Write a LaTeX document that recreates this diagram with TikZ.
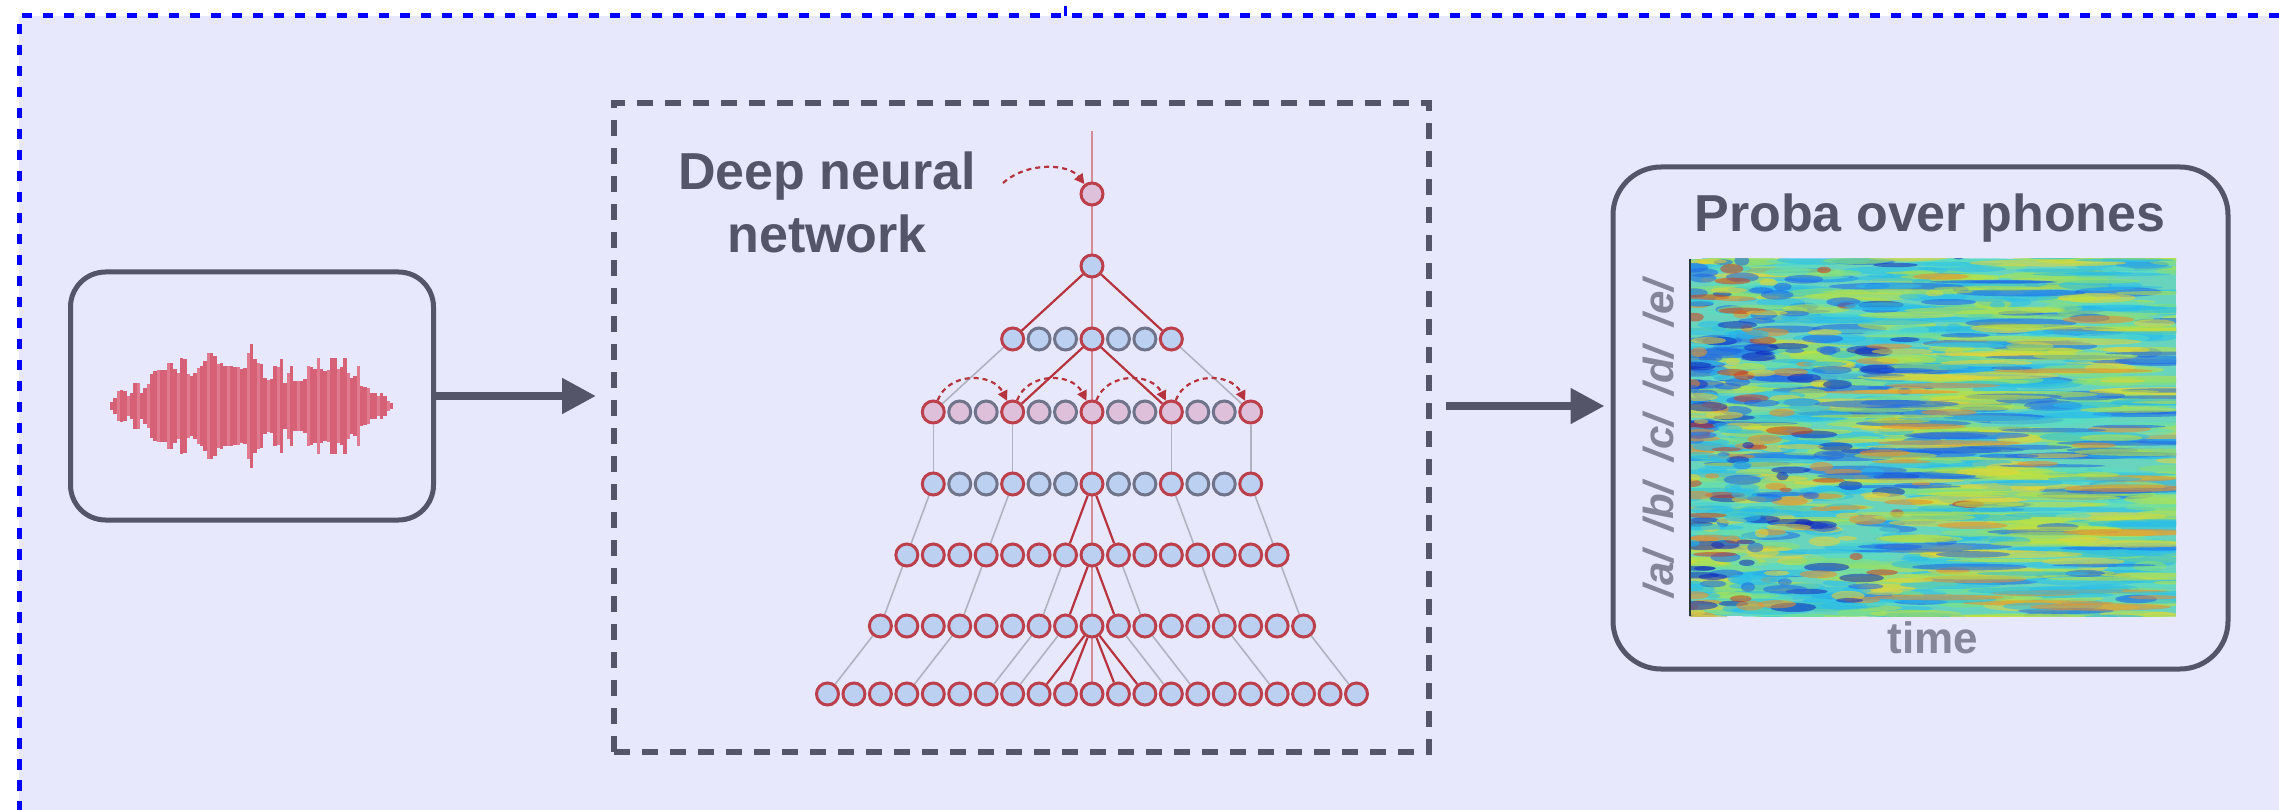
\documentclass[tikz,border=0pt]{standalone}
\usepackage{fontspec}
\setmainfont{Liberation Sans}
\usetikzlibrary{arrows.meta}
\pgfdeclarelayer{back}
\pgfdeclarelayer{edges}
\pgfsetlayers{back,edges,main}

\definecolor{ink}{RGB}{84,85,105}
\definecolor{inklight}{RGB}{132,133,152}
\definecolor{panel}{RGB}{232,232,252}
\definecolor{frameblue}{RGB}{0,0,255}
\definecolor{wavedark}{RGB}{214,96,118}
\definecolor{wavelight}{RGB}{224,122,142}
\definecolor{unitblue}{RGB}{188,208,242}
\definecolor{unitpink}{RGB}{222,192,218}
\definecolor{nodered}{RGB}{188,64,76}
\definecolor{nodegray}{RGB}{112,116,138}
\definecolor{edgered}{RGB}{182,52,62}
\definecolor{edgegray}{RGB}{176,178,194}
\definecolor{axisred}{RGB}{214,140,152}
\definecolor{specbase}{RGB}{104,212,190}
\definecolor{sp1}{RGB}{18,40,190}
\definecolor{sp2}{RGB}{30,100,232}
\definecolor{sp3}{RGB}{40,190,236}
\definecolor{sp4}{RGB}{90,222,196}
\definecolor{sp5}{RGB}{140,226,112}
\definecolor{sp6}{RGB}{192,226,62}
\definecolor{sp7}{RGB}{236,212,50}
\definecolor{sp8}{RGB}{236,140,40}
\definecolor{sp9}{RGB}{208,60,30}

\begin{document}
\begin{tikzpicture}[x=1pt,y=-1pt,
  box/.style={draw=ink, line width=5pt, inner sep=0pt},
  dnnbox/.style={draw=ink, line width=6pt, dash pattern=on 16pt off 12pt, inner sep=0pt},
  flow/.style={draw=ink, line width=8pt, -{Triangle[length=34pt,width=34pt]}},
  title/.style={text=ink, font=\fontsize{52pt}{60pt}\selectfont\bfseries, inner sep=0pt},
  phone/.style={text=inklight, font=\fontsize{42pt}{48pt}\selectfont\bfseries\itshape, rotate=90, inner sep=0pt, anchor=base},
  unit/.style={circle, minimum size=22pt, inner sep=0pt, line width=3pt},
  redlink/.style={draw=edgered, line width=2.2pt},
  graylink/.style={draw=edgegray, line width=1.6pt},
  recur/.style={draw=edgered, line width=2.2pt, dash pattern=on 5pt off 4pt, -{Triangle[length=10pt,width=10pt]}},
  blob/.style={opacity=0.55}]
\useasboundingbox (0,0) rectangle (2279,810);

% enclosing cluster
\begin{pgfonlayer}{back}
  \fill[panel] (19,16) rectangle (2300,830);
  \draw[frameblue, line width=5pt, dash pattern=on 10.5pt off 10.5pt] (2300,16) -- (19,16) -- (19,830);
  \draw[frameblue, line width=3pt] (1065,6) -- (1065,16);
\end{pgfonlayer}

% the three stages
\node[box, rounded corners=35pt, minimum width=363pt, minimum height=248pt] (wave) at (252,396) {};
\node[dnnbox, minimum width=815pt, minimum height=649pt] (dnn) at (1021.5,427.5) {};
\node[box, rounded corners=48pt, minimum width=615pt, minimum height=502pt] (prob) at (1920.5,418) {};

% arrows between stages
\coordinate (lvlB) at (0,406);
\draw[flow, shorten >=15pt] (wave.east) -- (wave.east -| dnn.west);
\draw[flow, shorten <=14pt, shorten >=6pt] (dnn.east |- lvlB) -- (prob.west |- lvlB);

% speech waveform
\foreach \z/\h [count=\k] in {185/12,195/25,205/45,215/48,225/45,235/30,245/40,255/68,265/68,275/40,
  285/55,295/65,305/95,315/105,325/108,335/108,345/108,355/128,365/130,375/110,385/100,395/145,
  405/140,415/95,425/90,435/100,445/115,455/120,465/135,475/160,485/160,495/150,505/125,515/130,
  525/120,535/120,545/120,555/118,565/118,575/110,585/115,595/160,605/185,615/140,625/130,635/125,
  645/85,655/78,665/80,675/120,685/118,695/140,705/70,715/100,725/120,735/75,745/75,755/75,765/80,
  775/120,785/118,795/110,805/145,815/110,825/105,835/108,845/145,855/145,865/112,875/118,885/145,
  895/100,905/85,915/90,925/120,935/60,945/58,955/55,965/40,975/38,985/30,995/38,1005/30,1015/15,1025/8}{
  \pgfmathtruncatemacro{\wp}{mod(\k,3)}
  \ifnum\wp=0 \def\wc{wavelight}\else\def\wc{wavedark}\fi
  \fill[\wc] ({50+\z/3-1.75},{406-\h/3}) rectangle ({50+\z/3+1.75},{406+\h/3});
}

% network units
\foreach \r/\n/\y/\f/\m in {0/1/194/pink/1,1/1/266/blue/1,2/7/339/blue/3,3/13/412/pink/3,
  4/13/484/blue/3,5/15/555/blue/1,6/17/626/blue/1,7/21/694/blue/1}{
  \pgfmathtruncatemacro{\last}{\n-1}
  \foreach \i in {0,...,\last}{
    \pgfmathtruncatemacro{\isred}{mod(\i,\m)==0 ? 1 : 0}
    \ifnum\isred=1 \def\oc{nodered}\else\def\oc{nodegray}\fi
    \node[unit, draw=\oc, fill=unit\f] (n\r-\i) at ({1092+26.45*(\i-(\n-1)/2)},\y) {};
  }
}

% connections behind the units
\coordinate (axtop) at (1092,131);
\begin{pgfonlayer}{edges}
  \draw[draw=axisred, line width=1.5pt] (axtop) -- (n7-10.center);
  \foreach \a/\b in {1-0/2-0,1-0/2-6,2-3/3-3,2-3/3-9,4-6/5-6,4-6/5-8,5-7/6-7,5-7/6-9,
    6-8/7-8,6-8/7-9,6-8/7-11,6-8/7-12}
    \draw[redlink] (n\a) -- (n\b);
  \foreach \a/\b in {2-0/3-0,2-6/3-12,3-0/4-0,3-3/4-3,3-9/4-9,3-12/4-12,
    4-0/5-0,5-0/6-0,6-0/7-0,4-3/5-3,5-3/6-3,6-3/7-3,5-6/6-6,6-6/7-6,6-7/7-7,
    4-12/5-14,5-14/6-16,6-16/7-20,4-9/5-11,5-11/6-13,6-13/7-17,5-8/6-10,6-10/7-14,6-9/7-13}
    \draw[graylink] (n\a) -- (n\b);
\end{pgfonlayer}

% recurrent links in the third layer
\foreach \a/\b in {0/3,3/6,6/9,9/12}
  \draw[recur] (n3-\a) .. controls +(15,-40) and +(-20,-40) .. (n3-\b);

% caption of the network
\node[title, anchor=base] (dnnA) at (827,190) {Deep neural};
\node[title, anchor=base] (dnnB) at (827,253) {network};
\coordinate (lblarc) at (1003,183);
\draw[recur] (lblarc) .. controls +(25,-22) and +(-23,-30) .. (n0-0);

% output probabilities
\node[title, anchor=base] (probT) at (1930,232) {Proba over phones};
\node[inner sep=0pt, minimum width=486pt, minimum height=357pt] (spec) at (1933,437.5) {};
\begin{scope}
  \clip (spec.south west) rectangle (spec.north east);
  \fill[specbase] (spec.south west) rectangle (spec.north east);
  \pgfmathsetseed{4242}
  % broad background streaks
  \foreach \k in {1,...,900}{
    \pgfmathsetmacro{\px}{1690+486*rnd}
    \pgfmathsetmacro{\py}{255+365*rnd}
    \pgfmathsetmacro{\rx}{14+45*rnd}
    \pgfmathsetmacro{\ry}{2+3.5*rnd}
    \pgfmathsetmacro{\pc}{rnd}
    \pgfmathtruncatemacro{\ci}{\pc<0.12 ? 2 : (\pc<0.38 ? 3 : (\pc<0.56 ? 4 : (\pc<0.78 ? 5 : (\pc<0.93 ? 6 : 7))))}
    \fill[sp\ci, blob] (\px,\py) ellipse [x radius=\rx pt, y radius=\ry pt];
  }
  % busier activity towards the start
  \foreach \k in {1,...,300}{
    \pgfmathsetmacro{\px}{1690+330*rnd*rnd}
    \pgfmathsetmacro{\py}{255+365*rnd}
    \pgfmathsetmacro{\rx}{6+18*rnd}
    \pgfmathsetmacro{\ry}{2+3*rnd}
    \pgfmathsetmacro{\pc}{rnd}
    \pgfmathtruncatemacro{\ci}{\pc<0.16 ? 1 : (\pc<0.36 ? 2 : (\pc<0.56 ? 7 : (\pc<0.72 ? 8 : (\pc<0.8 ? 9 : 3))))}
    \fill[sp\ci, blob] (\px,\py) ellipse [x radius=\rx pt, y radius=\ry pt];
  }
  % long streaks towards the end
  \foreach \k in {1,...,220}{
    \pgfmathsetmacro{\px}{1880+300*rnd}
    \pgfmathsetmacro{\py}{255+365*rnd}
    \pgfmathsetmacro{\rx}{20+60*rnd}
    \pgfmathsetmacro{\ry}{1.5+2.5*rnd}
    \pgfmathsetmacro{\pc}{rnd}
    \pgfmathtruncatemacro{\ci}{\pc<0.25 ? 2 : (\pc<0.45 ? 3 : (\pc<0.75 ? 6 : (\pc<0.9 ? 7 : 8)))}
    \fill[sp\ci, blob] (\px,\py) ellipse [x radius=\rx pt, y radius=\ry pt];
  }
\end{scope}
\draw[draw={rgb,255:red,40;green,52;blue,64}, line width=2.5pt] (spec.north west) -- (spec.south west);

% axis labels
\node[phone] (pa) at (1673,574) {/a/};
\node[phone] (pb) at (1673,507) {/b/};
\node[phone] (pc) at (1673,438) {/c/};
\node[phone] (pd) at (1673,371) {/d/};
\node[phone] (pe) at (1673,303) {/e/};
\node[text=inklight, font=\fontsize{44pt}{50pt}\selectfont\bfseries, inner sep=0pt, anchor=base] (tlbl) at (1933,653) {time};
\end{tikzpicture}
\end{document}
